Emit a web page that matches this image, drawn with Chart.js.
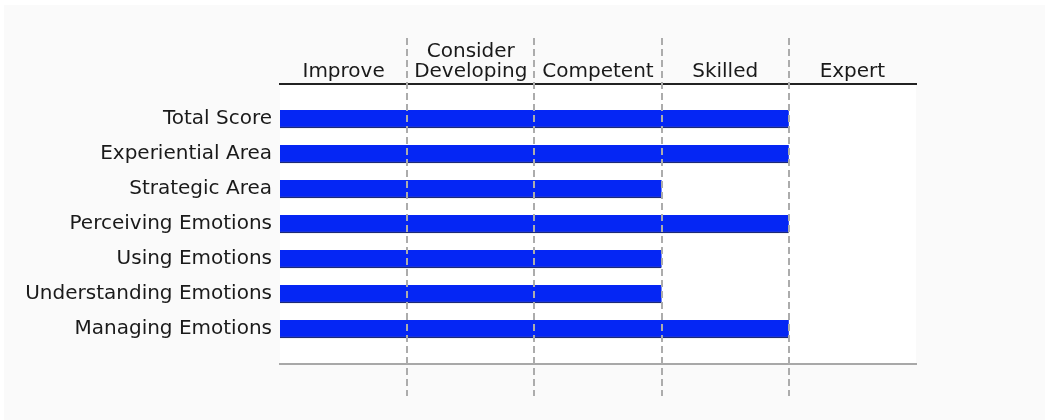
<!DOCTYPE html>
<html>
<head>
<meta charset="utf-8">
<script src="https://cdn.jsdelivr.net/npm/chart.js@4"></script>
<style>
  html, body { margin: 0; padding: 0; background: #ffffff; }
  #wrap { width: 1045px; height: 420px; position: relative; }
</style>
</head>
<body>
<div id="wrap"><canvas id="skillChart"></canvas></div>
<script>
// Level columns along the top
const levels = ['Improve', ['Consider', 'Developing'], 'Competent', 'Skilled', 'Expert'];

// Score areas (rows) and the level each one reached (0-5)
const areas = [
  'Total Score',
  'Experiential Area',
  'Strategic Area',
  'Perceiving Emotions',
  'Using Emotions',
  'Understanding Emotions',
  'Managing Emotions'
];
const scores = [4, 4, 3, 4, 3, 3, 4];

const FONT = { family: '"DejaVu Sans", sans-serif', size: 20, lineHeight: 1.0 };

// Grey panel + white plot area behind everything
const backdrop = {
  id: 'backdrop',
  beforeDraw(chart) {
    const { ctx, chartArea } = chart;
    ctx.save();
    ctx.fillStyle = '#fafafa';
    ctx.fillRect(4, 5, chart.width - 4, chart.height - 5);
    ctx.fillStyle = '#ffffff';
    ctx.fillRect(chartArea.left, chartArea.top, chartArea.right - chartArea.left, chartArea.bottom - chartArea.top);
    ctx.restore();
  }
};

// Dashed column dividers, drawn over the bars and past both axis lines
const dividers = {
  id: 'dividers',
  afterDatasetsDraw(chart) {
    const { ctx, scales } = chart;
    ctx.save();
    ctx.strokeStyle = '#acacac';
    ctx.lineWidth = 2;
    ctx.setLineDash([7, 4]);
    for (let v = 1; v < levels.length; v++) {
      const px = Math.round(scales.x.getPixelForValue(v));
      ctx.beginPath();
      ctx.moveTo(px, 38);
      ctx.lineTo(px, 396);
      ctx.stroke();
    }
    ctx.restore();
  }
};

const ctx = document.getElementById('skillChart').getContext('2d');
new Chart(ctx, {
  type: 'bar',
  data: {
    // blank slots at both ends give the half-row gap above and below
    labels: ['', ...areas, ''],
    datasets: [{
      data: [null, ...scores, null],
      backgroundColor: '#0526f4',
      borderColor: '#1c2a78',
      borderWidth: { top: 0, right: 0, bottom: 1.5, left: 0 },
      borderSkipped: false,
      barThickness: 18
    }]
  },
  plugins: [backdrop, dividers],
  options: {
    indexAxis: 'y',
    responsive: true,
    maintainAspectRatio: false,
    animation: false,
    layout: { padding: { left: 10, right: 129, top: 0, bottom: 0 } },
    plugins: {
      legend: { display: false },
      tooltip: { enabled: false }
    },
    scales: {
      x: {
        type: 'linear',
        position: 'bottom',
        min: 0,
        max: levels.length,
        ticks: { display: false },
        grid: { display: false },
        border: { color: '#a8a8a8', width: 2 },
        afterFit: s => { s.height = 56; }
      },
      x2: {
        type: 'category',
        axis: 'x',
        position: 'top',
        labels: levels,
        offset: true,
        grid: { display: false, drawTicks: false },
        border: { color: '#222222', width: 2 },
        ticks: { font: FONT, color: '#1a1a1a', padding: 2, maxRotation: 0, autoSkip: false },
        afterFit: s => { s.height = 84; }
      },
      y: {
        type: 'category',
        offset: false,
        grid: { display: false, drawTicks: false },
        border: { display: false },
        ticks: { font: FONT, color: '#1a1a1a', padding: 8, autoSkip: false },
        afterFit: s => { s.width = 270; }
      }
    }
  }
});
</script>
</body>
</html>
